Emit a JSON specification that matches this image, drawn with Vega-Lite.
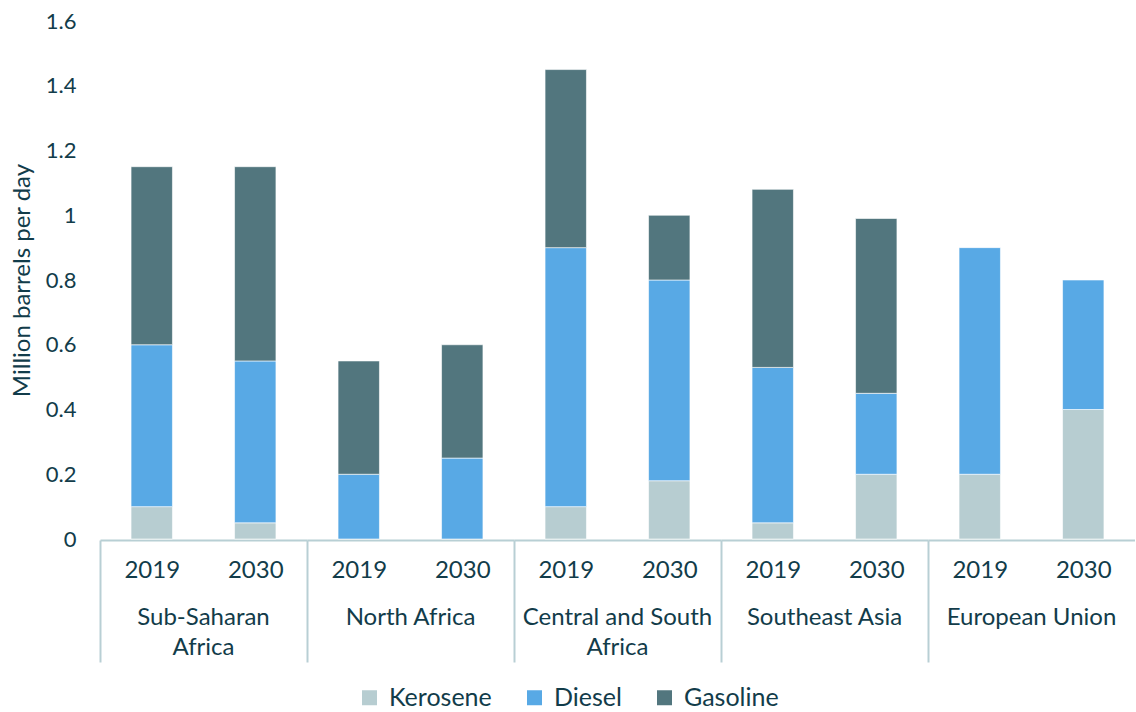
{
  "$schema": "https://vega.github.io/schema/vega-lite/v6.json",
  "padding": {"left": 10, "top": 10, "right": 0, "bottom": 0},
  "background": "white",
  "data": {"values": [
    {"region": "Sub-Saharan Africa", "year": "2019", "fuel": "Kerosene", "value": 0.1},
    {"region": "Sub-Saharan Africa", "year": "2019", "fuel": "Diesel", "value": 0.5},
    {"region": "Sub-Saharan Africa", "year": "2019", "fuel": "Gasoline", "value": 0.55},
    {"region": "Sub-Saharan Africa", "year": "2030", "fuel": "Kerosene", "value": 0.05},
    {"region": "Sub-Saharan Africa", "year": "2030", "fuel": "Diesel", "value": 0.5},
    {"region": "Sub-Saharan Africa", "year": "2030", "fuel": "Gasoline", "value": 0.6},
    {"region": "North Africa", "year": "2019", "fuel": "Diesel", "value": 0.2},
    {"region": "North Africa", "year": "2019", "fuel": "Gasoline", "value": 0.35},
    {"region": "North Africa", "year": "2030", "fuel": "Diesel", "value": 0.25},
    {"region": "North Africa", "year": "2030", "fuel": "Gasoline", "value": 0.35},
    {"region": "Central and South Africa", "year": "2019", "fuel": "Kerosene", "value": 0.1},
    {"region": "Central and South Africa", "year": "2019", "fuel": "Diesel", "value": 0.8},
    {"region": "Central and South Africa", "year": "2019", "fuel": "Gasoline", "value": 0.55},
    {"region": "Central and South Africa", "year": "2030", "fuel": "Kerosene", "value": 0.18},
    {"region": "Central and South Africa", "year": "2030", "fuel": "Diesel", "value": 0.62},
    {"region": "Central and South Africa", "year": "2030", "fuel": "Gasoline", "value": 0.2},
    {"region": "Southeast Asia", "year": "2019", "fuel": "Kerosene", "value": 0.05},
    {"region": "Southeast Asia", "year": "2019", "fuel": "Diesel", "value": 0.48},
    {"region": "Southeast Asia", "year": "2019", "fuel": "Gasoline", "value": 0.55},
    {"region": "Southeast Asia", "year": "2030", "fuel": "Kerosene", "value": 0.2},
    {"region": "Southeast Asia", "year": "2030", "fuel": "Diesel", "value": 0.25},
    {"region": "Southeast Asia", "year": "2030", "fuel": "Gasoline", "value": 0.54},
    {"region": "European Union", "year": "2019", "fuel": "Kerosene", "value": 0.2},
    {"region": "European Union", "year": "2019", "fuel": "Diesel", "value": 0.7},
    {"region": "European Union", "year": "2030", "fuel": "Kerosene", "value": 0.4},
    {"region": "European Union", "year": "2030", "fuel": "Diesel", "value": 0.4}
  ]},
  "transform": [
    {"calculate": "indexof(['Kerosene', 'Diesel', 'Gasoline'], datum.fuel)", "as": "fuel_order"}
  ],
  "facet": {
    "column": {
      "field": "region", "type": "nominal", "title": null,
      "sort": ["Sub-Saharan Africa", "North Africa", "Central and South Africa", "Southeast Asia", "European Union"],
      "header": {
        "labelOrient": "bottom",
        "labelPadding": -57,
        "labelFontSize": 24,
        "labelFont": "Lato",
        "labelColor": "#123c4a",
        "labelLineHeight": 30,
        "labelExpr": "datum.value == 'Sub-Saharan Africa' ? ['Sub-Saharan', 'Africa'] : datum.value == 'Central and South Africa' ? ['Central and South', 'Africa'] : datum.value"
      }
    }
  },
  "spacing": 0,
  "spec": {
    "width": 207,
    "height": 518,
    "mark": {"type": "bar", "stroke": "#ffffff", "strokeWidth": 0.6},
    "encoding": {
      "x": {
        "field": "year", "type": "ordinal",
        "scale": {"paddingInner": 0.6, "paddingOuter": 0.3},
        "axis": {
          "title": null, "labelAngle": 0,
          "domainColor": "#b8cfd4", "domainWidth": 2,
          "tickSize": 122, "tickColor": "#b8cfd4", "tickWidth": 2,
          "tickOffset": -51.75, "labelOffset": 51.75,
          "tickOpacity": {"condition": {"test": "datum.value === '2030'", "value": 0}, "value": 1},
          "labelPadding": -104, "labelFontSize": 24, "labelFont": "Lato", "labelColor": "#123c4a"
        }
      },
      "y": {
        "field": "value", "type": "quantitative", "stack": "zero",
        "scale": {"domain": [0, 1.6]},
        "axis": {
          "title": "Million barrels per day", "titleFontSize": 24, "titleFontWeight": "normal",
          "titleFont": "Lato", "titleColor": "#123c4a", "titlePadding": 11,
          "values": [0, 0.2, 0.4, 0.6, 0.8, 1, 1.2, 1.4, 1.6], "format": "~g",
          "domain": false, "ticks": false, "grid": false,
          "labelPadding": 24, "labelFontSize": 22, "labelFont": "Lato", "labelColor": "#123c4a"
        }
      },
      "color": {
        "field": "fuel", "type": "nominal",
        "sort": ["Kerosene", "Diesel", "Gasoline"],
        "scale": {"domain": ["Kerosene", "Diesel", "Gasoline"], "range": ["#b7cdd1", "#58a9e5", "#52767e"]},
        "legend": {
          "orient": "none", "legendX": 257, "legendY": 664,
          "direction": "horizontal", "title": null,
          "labelFontSize": 25, "labelFont": "Lato", "labelColor": "#123c4a",
          "symbolType": "square", "symbolSize": 225, "symbolStrokeWidth": 0,
          "columnPadding": 30, "labelOffset": 7
        }
      },
      "order": {"field": "fuel_order", "type": "quantitative"}
    }
  },
  "config": {"view": {"stroke": null}}
}
